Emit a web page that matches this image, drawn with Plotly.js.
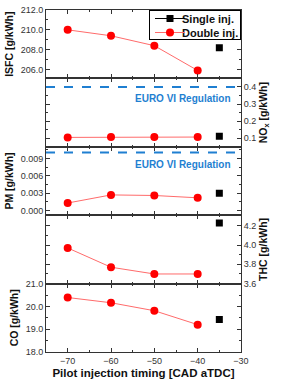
<!DOCTYPE html>
<html>
<head>
<meta charset="utf-8">
<script src="https://cdn.plot.ly/plotly-3.0.1.min.js"></script>
<style>html,body{margin:0;padding:0;background:#fff;}#chart{width:281px;height:383px;}</style>
</head>
<body>
<div id="chart"></div>
<script>
// ---- data ----
const timing = [-70, -60, -50, -40];
const singleTiming = [-35];
const isfcDouble = [210.0, 209.4, 208.4, 205.9];
const isfcSingle = [208.2];
const noxDouble = [0.105, 0.107, 0.108, 0.107];
const noxSingle = [0.112];
const pmDouble = [0.0013, 0.0027, 0.0026, 0.0022];
const pmSingle = [0.0030];
const thcDouble = [3.97, 3.77, 3.70, 3.70];
const thcSingle = [4.23];
const coDouble = [20.39, 20.16, 19.81, 19.20];
const coSingle = [19.43];
const noxLimit = [0.4];
const pmLimit = [0.01];
const regLabel = ["EURO VI Regulation"];
const xTicks = [-70, -60, -50, -40, -30];

const RED = '#ff0000', LRED = '#ff6b6b', BLUE = '#1f7fd1', AX = '#333';
const FONT = 'Liberation Sans, Arial, sans-serif';

function dbl(y, ax, show) {
  return {x: timing, y: y, xaxis: 'x' + ax, yaxis: 'y' + ax, name: 'Double inj.',
    mode: 'lines+markers', line: {color: LRED, width: 1},
    marker: {color: RED, size: 8, symbol: 'circle'}, showlegend: show, legendrank: 2};
}
function sgl(y, ax, show) {
  return {x: singleTiming, y: y, xaxis: 'x' + ax, yaxis: 'y' + ax, name: 'Single inj.',
    mode: 'lines+markers', line: {color: '#000', width: 1},
    marker: {color: '#000', size: 7, symbol: 'square'}, showlegend: show, legendrank: 1};
}

const traces = [
  sgl(isfcSingle, '', true), dbl(isfcDouble, '', true),
  sgl(noxSingle, '2', false), dbl(noxDouble, '2', false),
  sgl(pmSingle, '3', false), dbl(pmDouble, '3', false),
  sgl(thcSingle, '4', false), dbl(thcDouble, '4', false),
  sgl(coSingle, '5', false), dbl(coDouble, '5', false)
];

const bounds = [[0.8, 1], [0.6, 0.8], [0.4, 0.6], [0.2, 0.4], [0, 0.2]];
const tickFont = {family: FONT, size: 9, color: AX};
const titleFont = {family: FONT, size: 10.5, color: '#111'};

function xax(i) {
  const a = {range: [-75, -30], domain: [0, 1], anchor: i === 1 ? 'y' : 'y' + i,
    showline: true, linecolor: AX, linewidth: 1, mirror: 'allticks',
    ticks: 'inside', ticklen: 4, tickcolor: AX, tickvals: xTicks,
    minor: {ticks: 'inside', ticklen: 2, dtick: 5, tickcolor: AX},
    showgrid: false, zeroline: false, showticklabels: i === 5, tickfont: tickFont};
  if (i === 5) a.title = {text: '<b>Pilot injection timing [CAD aTDC]</b>', font: {family: FONT, size: 11.5, color: '#111'}, standoff: 4};
  return a;
}
function yax(i, range, dtick, minor, fmt, side, title) {
  return {domain: bounds[i - 1], range: range, anchor: i === 1 ? 'x' : 'x' + i, side: side,
    showline: true, linecolor: AX, linewidth: 1, mirror: 'allticks',
    ticks: 'inside', ticklen: 4, tickcolor: AX, dtick: dtick, tick0: 0, tickformat: fmt,
    minor: {ticks: 'inside', ticklen: 2, dtick: minor, tickcolor: AX},
    showgrid: false, zeroline: false, tickfont: tickFont,
    title: {text: title, font: titleFont, standoff: 4}};
}

const layout = {
  width: 281, height: 383,
  margin: {l: 46, r: 40, t: 10, b: 31},
  paper_bgcolor: '#fff', plot_bgcolor: '#fff',
  font: {family: FONT, color: AX},
  showlegend: true,
  legend: {x: 1, xanchor: 'right', y: 1, yanchor: 'top', bgcolor: '#fff',
    bordercolor: '#000', borderwidth: 1, font: {family: FONT, size: 11, color: '#111', weight: 'bold'},
    tracegroupgap: 0, itemwidth: 30},
  xaxis: xax(1), xaxis2: xax(2), xaxis3: xax(3), xaxis4: xax(4), xaxis5: xax(5),
  yaxis: yax(1, [205.1, 212], 2, 1, '.1f', 'left', '<b>ISFC [g/kWh]</b>'),
  yaxis2: yax(2, [0.05, 0.45], 0.1, 0.05, '.1f', 'right', '<b>NO<sub>x</sub> [g/kWh]</b>'),
  yaxis3: yax(3, [-0.0008, 0.011], 0.003, 0.0015, '.3f', 'left', '<b>PM [g/kWh]</b>'),
  yaxis4: yax(4, [3.6, 4.31], 0.2, 0.1, '.1f', 'right', '<b>THC [g/kWh]</b>'),
  yaxis5: yax(5, [18, 21], 1, 0.5, '.1f', 'left', '<b>CO [g/kWh]</b>'),
  shapes: [
    {type: 'line', xref: 'x2 domain', x0: 0, x1: 1, yref: 'y2', y0: noxLimit[0], y1: noxLimit[0],
      line: {color: BLUE, width: 2, dash: 'dash'}},
    {type: 'line', xref: 'x3 domain', x0: 0, x1: 1, yref: 'y3', y0: pmLimit[0], y1: pmLimit[0],
      line: {color: BLUE, width: 2, dash: 'dash'}}
  ],
  annotations: [
    {xref: 'x2 domain', x: 0.96, xanchor: 'right', yref: 'y2', y: 0.33, yanchor: 'middle',
      text: '<b>' + regLabel[0] + '</b>', showarrow: false, font: {family: FONT, size: 10, color: BLUE}},
    {xref: 'x3 domain', x: 0.96, xanchor: 'right', yref: 'y3', y: 0.008, yanchor: 'middle',
      text: '<b>' + regLabel[0] + '</b>', showarrow: false, font: {family: FONT, size: 10, color: BLUE}}
  ]
};

// compact the legend box (Plotly enforces a tall minimum row height)
function compactLegend(gd) {
  const leg = gd.querySelector('.legend');
  if (!leg) return;
  const bg = leg.querySelector('rect.bg');
  if (!bg) return;
  const W = parseFloat(bg.getAttribute('width'));
  const textShift = 8, trimRight = 4, rowH = 14, firstY = 8.5;
  leg.querySelectorAll('.traces').forEach(function (it, i) {
    const m = /translate\(\s*([-\d.]+)[ ,]+([-\d.]+)/.exec(it.getAttribute('transform') || '');
    const tx = m ? parseFloat(m[1]) : 1;
    it.setAttribute('transform', 'translate(' + tx + ',' + (firstY + rowH * i) + ')');
    const txt = it.querySelector('text.legendtext');
    if (txt) {
      const x = parseFloat(txt.getAttribute('x') || '40');
      txt.setAttribute('x', x - textShift);
      txt.querySelectorAll('tspan[x]').forEach(function (ts) { ts.setAttribute('x', parseFloat(ts.getAttribute('x')) - textShift); });
    }
  });
  const cut = textShift + trimRight;
  bg.setAttribute('width', W - cut);
  bg.setAttribute('height', firstY * 2 + rowH - 2);
  const lm = /translate\(\s*([-\d.]+)[ ,]+([-\d.]+)/.exec(leg.getAttribute('transform') || '');
  if (lm) leg.setAttribute('transform', 'translate(' + (parseFloat(lm[1]) + cut) + ',' + lm[2] + ')');
}

Plotly.newPlot('chart', traces, layout, {displayModeBar: false, staticPlot: true}).then(compactLegend);
</script>
</body>
</html>
